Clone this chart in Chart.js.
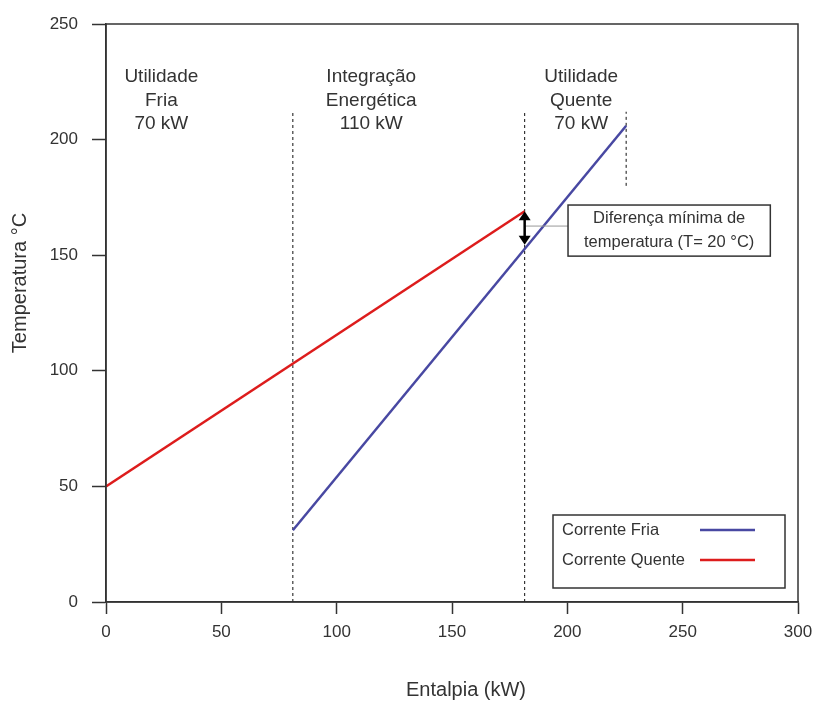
<!DOCTYPE html>
<html>
<head>
<meta charset="utf-8">
<script src="https://cdn.jsdelivr.net/npm/chart.js@4"></script>
<style>
  body { margin: 0; background: #fff; }
  #wrap { width: 814px; height: 704px; }
</style>
</head>
<body>
<div id="wrap"><canvas id="pinch"></canvas></div>
<script>
// curvas compostas
const coldEnthalpy = [81, 225.5];
const coldTemp = [31, 206];
const hotEnthalpy = [0, 181.5];
const hotTemp = [50, 169];

// linhas verticais tracejadas
const dividerX = [81, 181.5, 225.5];
const dividerTop = [212, 212, 212];
const dividerBottom = [0, 0, 180];

// rótulos das regiões
const regionLabels = [['Utilidade', 'Fria', '70 kW'], ['Integração', 'Energética', '110 kW'], ['Utilidade', 'Quente', '70 kW']];
const regionX = [24, 115, 206];
const regionY = 228;

// nota da diferença mínima
const noteLines = ['Diferença mínima de', 'temperatura (T= 20 °C)'];
const noteArrow = { x: 181.5, from: 169, to: 154.5 };
const noteBox = { left: 200.3, right: 288, top: 171.7, bottom: 149.6, lineY: 162.6 };

const xTicks = [0, 50, 100, 150, 200, 250, 300];
const yTicks = [0, 50, 100, 150, 200, 250];
const xTitle = 'Entalpia (kW)';
const yTitle = 'Temperatura °C';

const BLUE = '#4848a2';
const RED = '#dd1c1c';
const INK = '#333';
const FONT = '"Liberation Sans", Arial, sans-serif';

const toPoints = (xs, ys) => xs.map((x, i) => ({ x: x, y: ys[i] }));

const datasets = [
    { label: 'Corrente Fria', data: toPoints(coldEnthalpy, coldTemp), borderColor: BLUE, borderWidth: 2.5, legend: true },
    { label: 'Corrente Quente', data: toPoints(hotEnthalpy, hotTemp), borderColor: RED, borderWidth: 2.5, legend: true }
];
dividerX.forEach((x, i) => {
    datasets.push({
        label: 'div' + i,
        data: [{ x: x, y: dividerBottom[i] }, { x: x, y: dividerTop[i] }],
        borderColor: '#111', borderWidth: 1, borderDash: [3, 3]
    });
});
datasets.forEach(d => { d.showLine = true; d.pointRadius = 0; d.fill = false; });

const extras = {
    id: 'extras',
    afterDatasetsDraw(chart) {
        const { ctx, chartArea: a, scales: { x, y } } = chart;
        ctx.save();

        // moldura
        ctx.strokeStyle = INK;
        ctx.lineWidth = 1.5;
        ctx.strokeRect(a.left, a.top, a.right - a.left, a.bottom - a.top);

        // títulos dos eixos (fora do centro, como no original)
        ctx.fillStyle = INK;
        ctx.font = '20px ' + FONT;
        ctx.textAlign = 'center';
        ctx.textBaseline = 'middle';
        ctx.fillText(xTitle, a.left + 360, a.bottom + 88);
        ctx.save();
        ctx.translate(20, a.top + 259);
        ctx.rotate(-Math.PI / 2);
        ctx.fillText(yTitle, 0, 0);
        ctx.restore();

        // rótulos das regiões
        ctx.font = '19px ' + FONT;
        regionLabels.forEach((lines, i) => {
            lines.forEach((t, j) => ctx.fillText(t, x.getPixelForValue(regionX[i]), y.getPixelForValue(regionY) + 2 + j * 23.5));
        });

        // seta dupla
        const ax = x.getPixelForValue(noteArrow.x);
        const ay1 = y.getPixelForValue(noteArrow.from);
        const ay2 = y.getPixelForValue(noteArrow.to);
        const bl = x.getPixelForValue(noteBox.left), br = x.getPixelForValue(noteBox.right);
        const bt = y.getPixelForValue(noteBox.top), bb = y.getPixelForValue(noteBox.bottom);
        const ly = y.getPixelForValue(noteBox.lineY);
        ctx.strokeStyle = '#999';
        ctx.lineWidth = 1;
        ctx.beginPath(); ctx.moveTo(ax, ly); ctx.lineTo(bl, ly); ctx.stroke();
        ctx.strokeStyle = '#000';
        ctx.fillStyle = '#000';
        ctx.lineWidth = 2.5;
        ctx.beginPath(); ctx.moveTo(ax, ay1 + 6); ctx.lineTo(ax, ay2 - 6); ctx.stroke();
        [[ay1, 1], [ay2, -1]].forEach(([py, dir]) => {
            ctx.beginPath();
            ctx.moveTo(ax, py);
            ctx.lineTo(ax - 6, py + dir * 9);
            ctx.lineTo(ax + 6, py + dir * 9);
            ctx.closePath();
            ctx.fill();
        });

        // caixa da nota
        ctx.fillStyle = '#fff';
        ctx.fillRect(bl, bt, br - bl, bb - bt);
        ctx.strokeStyle = INK;
        ctx.lineWidth = 1.5;
        ctx.strokeRect(bl, bt, br - bl, bb - bt);
        ctx.fillStyle = INK;
        ctx.font = '16.5px ' + FONT;
        noteLines.forEach((t, j) => ctx.fillText(t, (bl + br) / 2, bt + 13 + j * 24));

        // legenda
        const lw = 232, lh = 73;
        const lx = a.right - 13 - lw, ly0 = a.bottom - 14 - lh;
        ctx.fillStyle = '#fff';
        ctx.fillRect(lx, ly0, lw, lh);
        ctx.strokeStyle = INK;
        ctx.lineWidth = 1.5;
        ctx.strokeRect(lx, ly0, lw, lh);
        ctx.textAlign = 'left';
        ctx.font = '16.5px ' + FONT;
        chart.data.datasets.filter(d => d.legend).forEach((d, i) => {
            const ry = ly0 + 15 + i * 30;
            ctx.fillStyle = INK;
            ctx.fillText(d.label, lx + 9, ry);
            ctx.strokeStyle = d.borderColor;
            ctx.lineWidth = 2.5;
            ctx.beginPath(); ctx.moveTo(lx + 147, ry); ctx.lineTo(lx + 202, ry); ctx.stroke();
        });

        ctx.restore();
    }
};

new Chart(document.getElementById('pinch'), {
    type: 'scatter',
    data: { datasets: datasets },
    options: {
        responsive: true, maintainAspectRatio: false, animation: false,
        layout: { padding: { top: 24, right: 16, left: 0, bottom: 0 } },
        plugins: { legend: { display: false }, tooltip: { enabled: false } },
        scales: {
            x: {
                type: 'linear', min: 0, max: 300,
                afterBuildTicks: s => { s.ticks = xTicks.map(v => ({ value: v })); },
                afterFit: s => { s.height = 102; s.paddingLeft = 0; s.paddingRight = 0; },
                ticks: { color: INK, font: { size: 17, family: FONT }, padding: 8 },
                grid: { drawOnChartArea: false, drawTicks: true, tickLength: 12, tickColor: INK, tickWidth: 1.5 },
                border: { display: true, color: INK, width: 1.5 }
            },
            y: {
                type: 'linear', min: 0, max: 250,
                afterBuildTicks: s => { s.ticks = yTicks.map(v => ({ value: v })); },
                afterFit: s => { s.width = 106; s.paddingTop = 0; s.paddingBottom = 0; },
                ticks: { color: INK, font: { size: 17, family: FONT }, padding: 14 },
                grid: { drawOnChartArea: false, drawTicks: true, tickLength: 14, tickColor: INK, tickWidth: 1.5 },
                border: { display: true, color: INK, width: 1.5 }
            }
        }
    },
    plugins: [extras]
});
</script>
</body>
</html>
